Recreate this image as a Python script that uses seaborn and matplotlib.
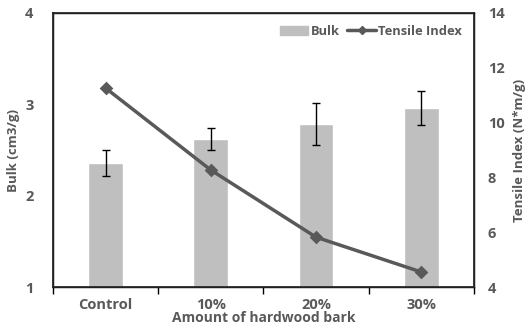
import matplotlib
matplotlib.use("Agg")
import matplotlib.pyplot as plt
import seaborn as sns
import pandas as pd
from matplotlib.patches import Patch
from matplotlib.lines import Line2D

categories = ["Control", "10%", "20%", "30%"]
bulk = [2.36, 2.62, 2.78, 2.96]
bulk_err = [0.14, 0.12, 0.23, 0.19]
tensile = [11.26, 8.27, 5.82, 4.55]

sns.set_theme(style="white")
plt.rcParams['font.family'] = ['Open Sans', 'DejaVu Sans']
txt = "#595959"

fig = plt.figure(figsize=(5.3, 3.33), dpi=100)
ax = fig.add_axes([0.1, 0.138, 0.794, 0.823])

df = pd.DataFrame({"cat": categories, "bulk": bulk, "tensile": tensile})
sns.barplot(data=df, x="cat", y="bulk", color="#bfbfbf", width=0.33, ax=ax,
            saturation=1, errorbar=None)
ax.errorbar(x=range(len(categories)), y=bulk, yerr=bulk_err, fmt="none",
            ecolor="black", elinewidth=1, capsize=3, capthick=1)
ax.set_ylim(1, 4)
ax.set_xlim(-0.5, 3.5)
ax.set_yticks([1, 2, 3, 4])
ax.set_ylabel("Bulk (cm3/g)", fontsize=9.5, fontweight="bold", color=txt, labelpad=4)
ax.set_xlabel("Amount of hardwood bark", fontsize=10, fontweight="bold", color=txt, labelpad=-1)
for sp in ax.spines.values():
    sp.set_color("black")
    sp.set_linewidth(1)

ax2 = ax.twinx()
sns.pointplot(data=df, x="cat", y="tensile", color="#595959", markers="D",
              linewidth=2.5, markersize=5, ax=ax2, errorbar=None)
ax2.set_ylim(4, 14)
ax2.set_yticks([4, 6, 8, 10, 12, 14])
ax2.set_xlim(-0.5, 3.5)
ax2.set_ylabel("Tensile Index (N*m/g)", fontsize=9.5, fontweight="bold", color=txt, labelpad=6)

ax.set_xticks([0, 1, 2, 3])
ax.set_xticklabels(categories)
ax.set_xticks([-0.5, 0.5, 1.5, 2.5, 3.5], minor=True)
ax.tick_params(axis="x", which="major", length=0, pad=8, labelsize=10.5, labelcolor=txt)
ax.tick_params(axis="x", which="minor", length=5, direction="out", bottom=True, color="black")
ax.tick_params(axis="y", length=0, pad=14, labelsize=10.5, labelcolor=txt)
ax2.tick_params(axis="y", length=0, pad=10, labelsize=10.5, labelcolor=txt)
for t in ax.get_xticklabels() + ax.get_yticklabels() + ax2.get_yticklabels():
    t.set_fontweight("bold")

handles = [Patch(color="#bfbfbf", label="Bulk"),
           Line2D([], [], color="#595959", lw=2.5, marker="D", markersize=4, label="Tensile Index")]
ax2.legend(handles=handles, loc="upper right", ncol=2, frameon=False,
           prop={"size": 9.3, "weight": "bold"}, labelcolor=txt, handlelength=2.2,
           handletextpad=0.2, columnspacing=0.6, bbox_to_anchor=(1.0, 1.0))

fig.savefig("out.png", dpi=100)
